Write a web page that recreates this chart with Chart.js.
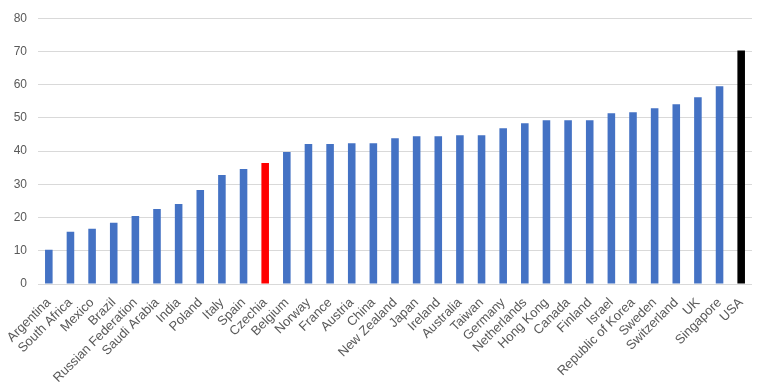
<!DOCTYPE html>
<html>
<head>
<meta charset="utf-8">
<script src="https://cdn.jsdelivr.net/npm/chart.js@4"></script>
<style>
	html, body { margin: 0; padding: 0; background: #ffffff; }
	#chart-container { width: 760px; height: 389px; position: relative; }
</style>
</head>
<body>
<div id="chart-container"><canvas id="chart-canvas"></canvas></div>
<script>
const countries = [
	"Argentina", "South Africa", "Mexico", "Brazil", "Russian Federation", "Saudi Arabia",
	"India", "Poland", "Italy", "Spain", "Czechia", "Belgium", "Norway", "France",
	"Austria", "China", "New Zealand", "Japan", "Ireland", "Australia", "Taiwan",
	"Germany", "Netherlands", "Hong Kong", "Canada", "Finland", "Israel",
	"Republic of Korea", "Sweden", "Switzerland", "UK", "Singapore", "USA"
];
const values = [
	10.3, 15.7, 16.6, 18.4, 20.5, 22.6,
	24.1, 28.3, 32.8, 34.6, 36.4, 39.7, 42.1, 42.1,
	42.4, 42.4, 43.9, 44.5, 44.5, 44.8, 44.8,
	46.9, 48.4, 49.3, 49.3, 49.3, 51.4,
	51.7, 52.9, 54.1, 56.2, 59.5, 70.3
];
const highlight = { "Czechia": "#ff0000", "USA": "#000000" };
const defaultColor = "#4472c4";
const yTicks = [0, 10, 20, 30, 40, 50, 60, 70, 80];

const barColors = countries.map(c => highlight[c] || defaultColor);

new Chart(document.getElementById("chart-canvas").getContext("2d"),
{
	type: 'bar',
	data:
	{
		labels: countries,
		datasets:
		[{
			data: values,
			backgroundColor: barColors,
			borderWidth: 0,
			barPercentage: 0.35,
			categoryPercentage: 1.0
		}]
	},
	options:
	{
		responsive: true,
		maintainAspectRatio: false,
		animation: false,
		layout: { padding: { top: 9, right: 8, left: 0, bottom: 0 } },
		plugins:
		{
			legend: { display: false },
			tooltip: { enabled: false }
		},
		scales:
		{
			x:
			{
				grid: { display: false },
				border: { display: false },
				ticks:
				{
					autoSkip: false,
					minRotation: 45,
					maxRotation: 45,
					padding: 3,
					color: '#595959',
					font: { family: "'Liberation Sans', Arial, sans-serif", size: 13 }
				},
				afterFit: (scale) =>
				{
					scale.height = 105;
					scale.paddingLeft = 0;
					scale.paddingRight = 0;
				}
			},
			y:
			{
				min: 0,
				max: 80,
				afterBuildTicks: (scale) => { scale.ticks = yTicks.map(v => ({ value: v })); },
				grid: { color: '#d9d9d9', lineWidth: 1, drawTicks: false },
				border: { display: false },
				ticks:
				{
					padding: 11,
					color: '#595959',
					font: { family: "'Liberation Sans', Arial, sans-serif", size: 12 }
				},
				afterFit: (scale) => { scale.width = 38; }
			}
		}
	}
});
</script>
</body>
</html>
